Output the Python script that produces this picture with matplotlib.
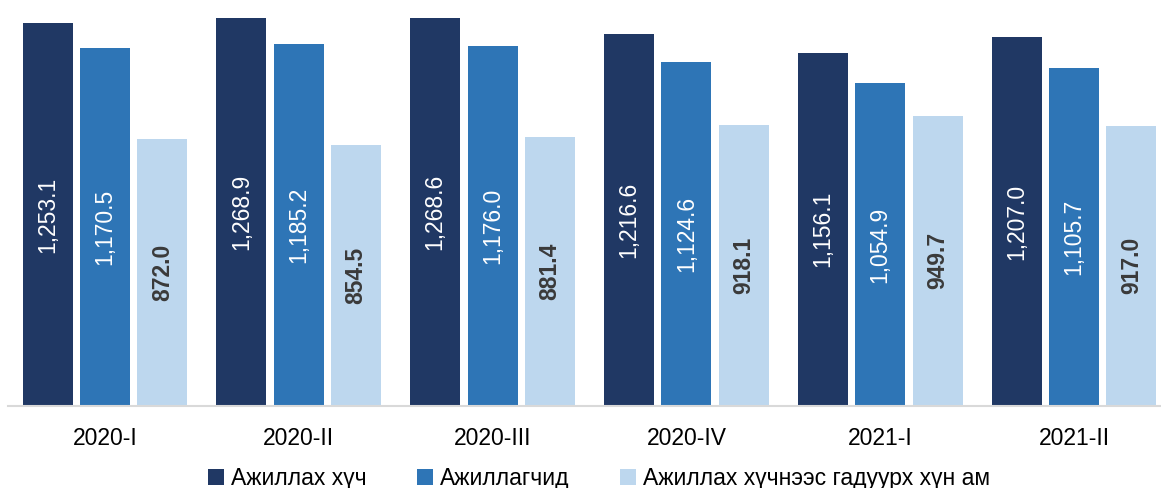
import matplotlib.pyplot as plt
import numpy as np

plt.rcParams['font.family'] = ['Liberation Sans', 'DejaVu Sans']

# данные
quarters = ['2020-I', '2020-II', '2020-III', '2020-IV', '2021-I', '2021-II']
labour_force = [1253.1, 1268.9, 1268.6, 1216.6, 1156.1, 1207.0]
employed = [1170.5, 1185.2, 1176.0, 1124.6, 1054.9, 1105.7]
outside_lf = [872.0, 854.5, 881.4, 918.1, 949.7, 917.0]
series_names = ['Ажиллах хүч', 'Ажиллагчид', 'Ажиллах хүчнээс гадуурх хүн ам']

colors = ['#203864', '#2E75B6', '#BDD7EE']
label_colors = ['white', 'white', '#3A3A3A']
label_weights = ['normal', 'normal', 'bold']

fig = plt.figure(figsize=(11.61, 4.88), dpi=100)
ax = fig.add_axes([8 / 1161, 1 - 406 / 488, 1 - 8 / 1161, 406 / 488])

x = np.arange(len(quarters))
step = 0.296
width = 0.258
handles = []
for i, vals in enumerate([labour_force, employed, outside_lf]):
    bars = ax.bar(x + (i - 1) * step, vals, width, color=colors[i], label=series_names[i])
    handles.append(bars)
    ax.bar_label(bars, labels=[f'{v:,.1f}' for v in vals], label_type='center',
                 rotation=90, fontsize=16.5, color=label_colors[i],
                 fontweight=label_weights[i])

ax.set_ylim(0, 1328)
ax.set_xlim(-0.5, 5.5 - 10 / 194)
ax.set_xticks(x)
ax.set_xticklabels(quarters, fontsize=16.5)
ax.tick_params(axis='x', length=0, pad=15)
ax.set_yticks([])
for side in ['top', 'right', 'left']:
    ax.spines[side].set_visible(False)
ax.spines['bottom'].set_color('#D9D9D9')
ax.spines['bottom'].set_linewidth(1.5)

fig.legend(handles=handles, loc='center', bbox_to_anchor=(0.516, 0.02), ncol=3,
           frameon=False, fontsize=16.5, handlelength=0.7, handleheight=0.7,
           handletextpad=0.3, columnspacing=2.2, borderaxespad=0)

fig.savefig('out.png', dpi=100)
